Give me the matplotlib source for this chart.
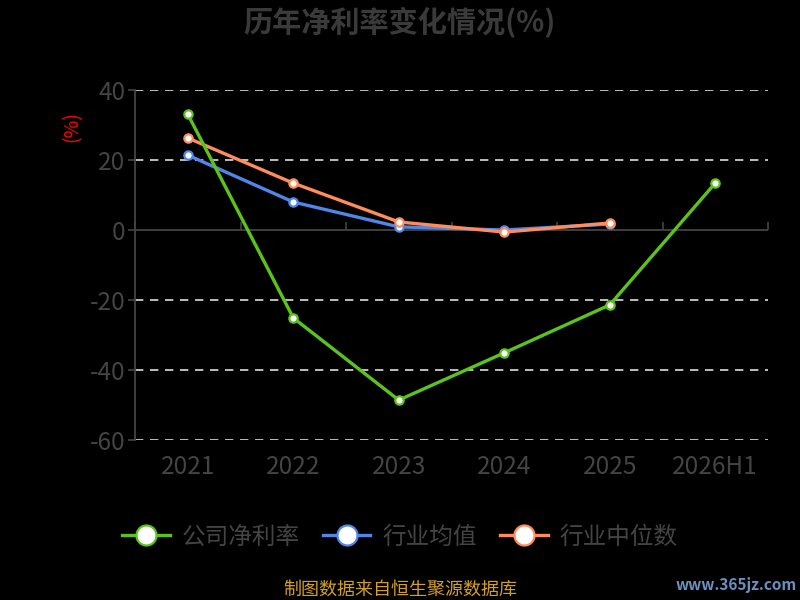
import matplotlib
matplotlib.use("Agg")
import matplotlib.pyplot as plt
import numpy as np

plt.rcParams["font.family"] = ["Noto Sans CJK SC", "DejaVu Sans"]

# data
years = ["2021", "2022", "2023", "2024", "2025", "2026H1"]
company = [33.1, -25.1, -48.6, -35.1, -21.4, 13.4]
ind_mean = [21.4, 8.0, 0.9, 0.0, 1.7]
ind_median = [26.3, 13.4, 2.3, -0.6, 2.0]
yticks = [40, 20, 0, -20, -40, -60]

green = "#5ac31c"
blue = "#4f86e8"
orange = "#ff8c5a"
grey = "#444444"

fig = plt.figure(figsize=(8, 6), dpi=100, facecolor="black")
ax = fig.add_axes([135 / 800, 1 - 440 / 600, 633 / 800, 350 / 600])
ax.set_facecolor("black")

x = np.arange(len(years))
ax.plot(x, company, color=green, lw=2.4, marker="o", ms=6,
        mfc="white", mec=green, mew=1.6, label="公司净利率", zorder=5)
ax.plot(x[:len(ind_mean)], ind_mean, color=blue, lw=2.4, marker="o", ms=6,
        mfc="white", mec=blue, mew=1.6, label="行业均值", zorder=4)
ax.plot(x[:len(ind_median)], ind_median, color=orange, lw=2.4, marker="o", ms=6,
        mfc="white", mec=orange, mew=1.6, label="行业中位数", zorder=4)

ax.set_xlim(-0.5, len(years) - 0.5)
ax.set_ylim(-60, 40)

# grid
for v in yticks:
    if v != 0:
        ax.axhline(v, color="#dddddd", lw=1.2, ls=(0, (5, 4)), zorder=1)
ax.axhline(0, color=grey, lw=1.3, zorder=2)

for s in ["top", "right", "bottom"]:
    ax.spines[s].set_visible(False)
ax.spines["left"].set_color(grey)
ax.spines["left"].set_linewidth(1.3)

ax.set_yticks(yticks)
ax.set_yticklabels([str(v) for v in yticks])
ax.tick_params(axis="y", colors=grey, labelcolor=grey, labelsize=17.5,
               length=5, width=1.2, pad=2)
ax.set_xticks(x)
ax.set_xticklabels(years)
ax.tick_params(axis="x", length=0, labelcolor=grey, labelsize=17.5, pad=10)

# category boundary ticks on the zero line
sec = ax.secondary_xaxis(0.6)
sec.set_xticks(np.arange(-0.5, len(years), 1.0))
sec.set_xticklabels([])
sec.spines["bottom"].set_visible(False)
sec.tick_params(axis="x", direction="out", length=6, width=1.2, colors=grey)

fig.text(0.5, 1 - 22 / 600, "历年净利率变化情况(%)", ha="center", va="center",
         fontsize=21, fontweight="bold", color="#3a3a3a")
fig.text(72 / 800, 1 - 126 / 600, "(%)", ha="center", va="center",
         rotation=90, fontsize=14, color="red")

leg = fig.legend(loc="center", bbox_to_anchor=(0.5, 1 - 537 / 600), ncol=3,
                 frameon=False, fontsize=17, labelcolor=grey,
                 handlelength=2.0, columnspacing=1.0, handletextpad=0.5,
                 markerscale=2.4)

fig.text(0.5, 1 - 590 / 600, "制图数据来自恒生聚源数据库", ha="center", va="center",
         fontsize=13, color="#d4a020")
fig.text(736 / 800, 1 - 585 / 600, "www.365jz.com", ha="center", va="center",
         fontsize=11, fontweight="bold", color="#6a90c0")

fig.savefig("out.png", dpi=100, facecolor="black")
